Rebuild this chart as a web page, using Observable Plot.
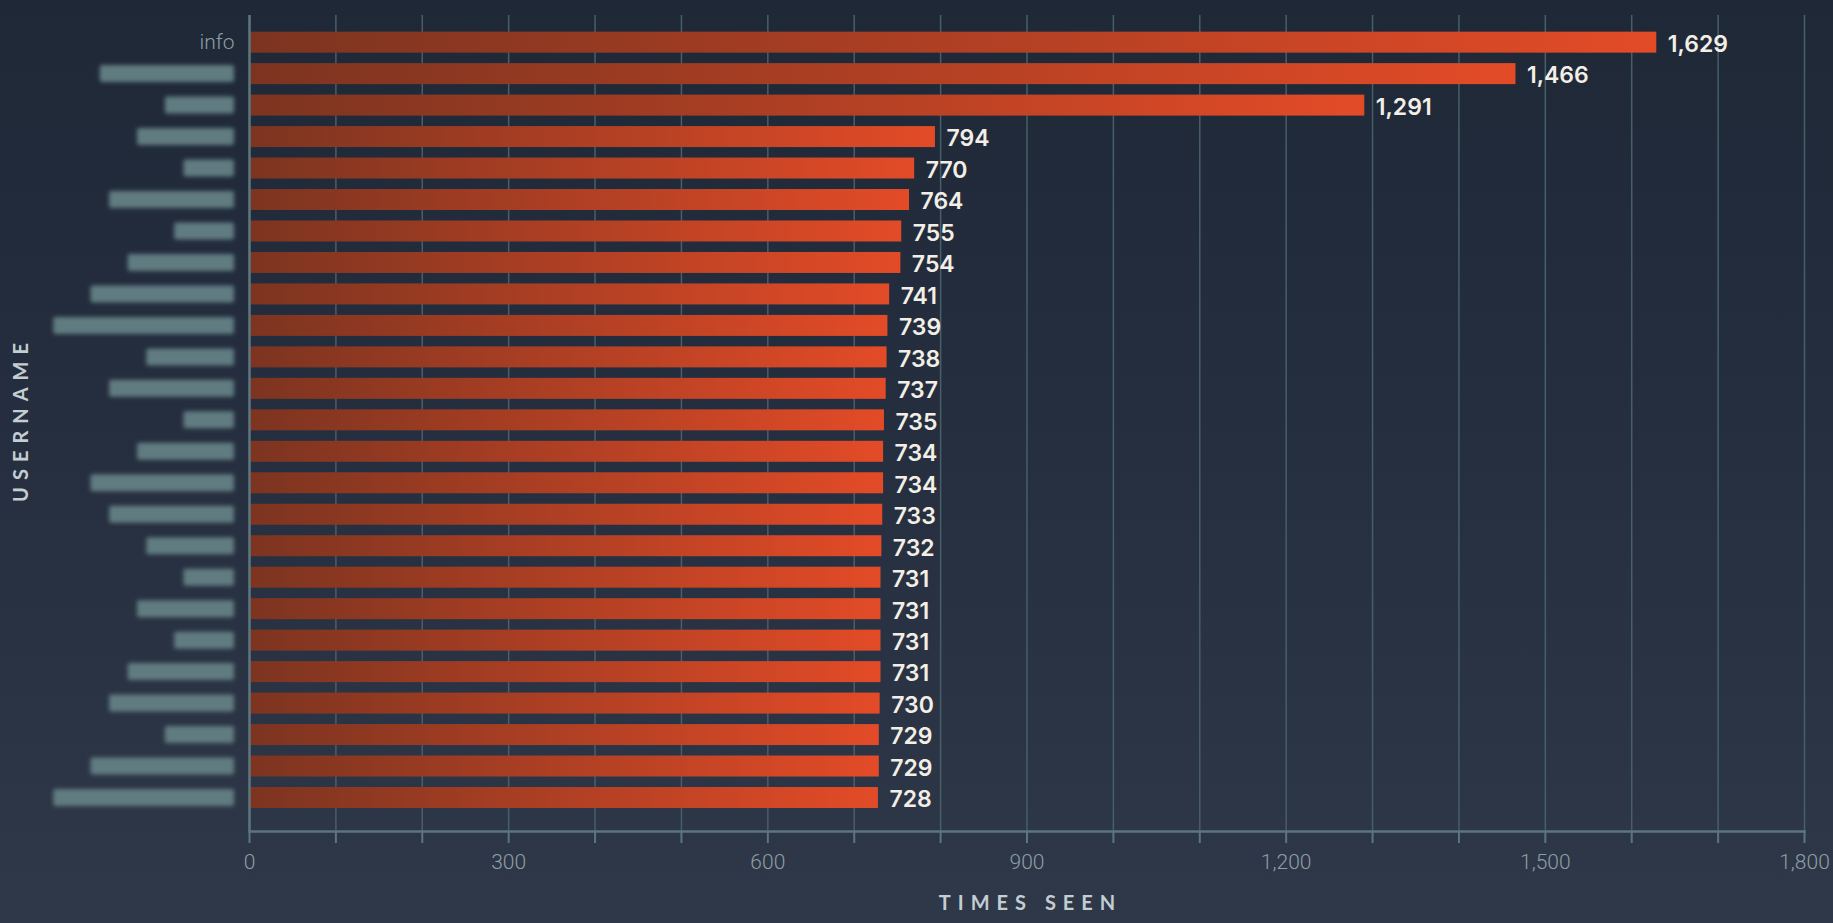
<!DOCTYPE html>
<html>
<head>
<meta charset="utf-8">
<script src="https://cdn.jsdelivr.net/npm/d3@7"></script>
<script src="https://cdn.jsdelivr.net/npm/@observablehq/plot@0.6"></script>
<style>
  html, body { margin: 0; padding: 0; }
  body {
    width: 1833px; height: 923px; overflow: hidden;
    background: linear-gradient(180deg, #1f2837 0%, #252e3e 45%, #2f3848 100%);
  }
  #chart svg { display: block; background: transparent; }
</style>
</head>
<body>
<div id="chart"></div>
<script>
// Most frequently seen usernames, ranked by the number of times seen.
// Only the first username is public; the others are redacted, so only
// their length in characters is kept.
const publicNames = ["info"];
const redactedNameLengths = [14, 7, 10, 5, 13, 6, 11, 15, 19, 9, 13, 5, 10, 15, 13, 9, 5, 10, 6, 11, 13, 7, 15, 19];
const timesSeen = [1629, 1466, 1291, 794, 770, 764, 755, 754, 741, 739, 738, 737, 735, 734, 734, 733, 732, 731, 731, 731, 731, 730, 729, 729, 728];
const xTicks = [0, 100, 200, 300, 400, 500, 600, 700, 800, 900, 1000, 1100, 1200, 1300, 1400, 1500, 1600, 1700, 1800];
const xTickLabels = [0, 300, 600, 900, 1200, 1500, 1800];

const rows = timesSeen.map((value, i) => ({
  rank: i,
  name: i < publicNames.length ? publicNames[i] : null,
  redactedLength: i < publicNames.length ? 0 : redactedNameLengths[i - publicNames.length],
  value
}));

const fmt = d3.format(",");
const axisColor = "#5b767e";
const gridColor = "#465f69";
const tickTextColor = "#8d9ea5";
const titleColor = "#c3cdd2";
const titleFont = { fill: titleColor, fontFamily: "Lato, sans-serif", fontWeight: 700, fontSize: 20 };

const chart = Plot.plot({
  width: 1833,
  height: 923,
  marginLeft: 249,
  marginRight: 29,
  marginTop: 15,
  marginBottom: 92,
  style: { background: "transparent", overflow: "visible" },
  x: { domain: [0, 1800] },
  y: { domain: rows.map(d => d.rank), paddingInner: 0.333, paddingOuter: 0.63, align: 0.42, round: false },
  marks: [
    Plot.gridX(xTicks, { stroke: gridColor, strokeOpacity: 1, strokeWidth: 1.5 }),
    Plot.barX(rows, { y: "rank", x: "value", fill: "url(#barFill)", insetLeft: 1 }),
    Plot.text(rows, {
      y: "rank", x: "value", text: d => fmt(d.value),
      textAnchor: "start", dx: 11, dy: 2,
      fill: "#f3efe6", fontFamily: "Inter, 'Open Sans', sans-serif", fontWeight: 600, fontSize: 23
    }),
    Plot.axisX(xTicks, {
      anchor: "bottom", tickSize: 12, tickPadding: 11,
      stroke: axisColor, strokeWidth: 2,
      tickFormat: d => xTickLabels.includes(d) ? fmt(d) : "",
      fill: tickTextColor, fontFamily: "Roboto, sans-serif", fontWeight: 300, fontSize: 21,
      label: null
    }),
    Plot.axisY({
      anchor: "left", tickSize: 0, tickPadding: 15,
      tickFormat: i => rows[i].name ?? "",
      fill: tickTextColor, fontFamily: "Roboto, sans-serif", fontWeight: 300, fontSize: 21,
      label: null
    }),
    Plot.ruleX([0], { stroke: axisColor, strokeWidth: 2.5 }),
    Plot.frame({ anchor: "bottom", stroke: axisColor, strokeWidth: 2.5 }),
    Plot.text(["TIMES SEEN"], {
      frameAnchor: "bottom", textAnchor: "middle", dy: 78, text: d => d, ...titleFont
    }),
    Plot.text(["USERNAME"], {
      frameAnchor: "left", textAnchor: "middle", dx: -228, dy: -1, rotate: -90, text: d => d, ...titleFont
    })
  ]
});

document.getElementById("chart").append(chart);

const root = d3.select(chart);

// Gradient for the bars (each bar runs dark rust to bright orange) and blur for redacted names.
const defs = root.insert("defs", ":first-child");
const grad = defs.append("linearGradient").attr("id", "barFill")
  .attr("x1", 0).attr("y1", 0).attr("x2", 1).attr("y2", 0);
grad.append("stop").attr("offset", "0%").attr("stop-color", "#7c3420");
grad.append("stop").attr("offset", "100%").attr("stop-color", "#e34b27");
defs.append("filter").attr("id", "redact")
  .attr("x", "-30%").attr("y", "-60%").attr("width", "160%").attr("height", "220%")
  .append("feGaussianBlur").attr("stdDeviation", 2.2);

// Letter-spaced axis titles; shift by half a space so the glyphs stay centred.
const spacing = 7;
root.selectAll("text")
  .filter(function () { return this.textContent === "TIMES SEEN" || this.textContent === "USERNAME"; })
  .attr("letter-spacing", spacing)
  .each(function () {
    const t = d3.select(this);
    t.attr("transform", (t.attr("transform") || "") + ` translate(${spacing / 2},0)`);
  });

// Redacted username labels, placed with the chart's own scales.
const xs = chart.scale("x");
const ys = chart.scale("y");
const labelRight = xs.apply(0) - 15;
const blockHeight = 17;
const charWidth = 9.3;
root.append("g").attr("aria-label", "redacted usernames")
  .selectAll("rect")
  .data(rows.filter(d => d.redactedLength > 0))
  .join("rect")
  .attr("x", d => labelRight - (4 + charWidth * d.redactedLength))
  .attr("y", d => ys.apply(d.rank) + ys.bandwidth / 2 - blockHeight / 2)
  .attr("width", d => 4 + charWidth * d.redactedLength)
  .attr("height", blockHeight)
  .attr("rx", 2)
  .attr("fill", "#607b81")
  .attr("filter", "url(#redact)");
</script>
</body>
</html>
